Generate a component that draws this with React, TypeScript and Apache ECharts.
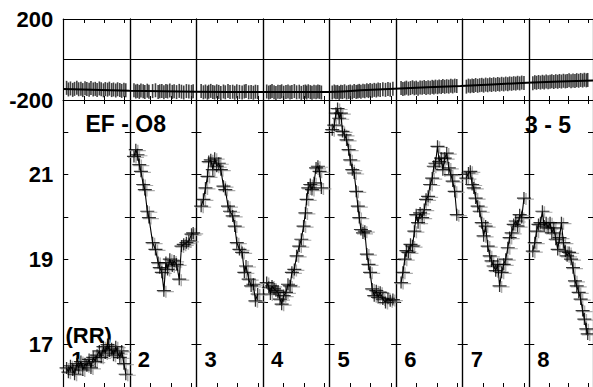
import React, { useEffect, useRef } from "react";
import * as echarts from "echarts";

// ---- data -------------------------------------------------------------
const segmentNames = ["1", "2", "3", "4", "5", "6", "7", "8"];
const segmentSpan = 3.25; // local time units per segment
const magTicks = [17, 19, 21];
const diffTicks = [200, -200];

const seg1X = [0.16, 0.25, 0.35, 0.46, 0.55, 0.66, 0.75, 0.86, 0.95, 1.06, 1.15, 1.26, 1.35, 1.46, 1.56, 1.65, 1.76, 1.85, 1.96, 2.05, 2.16, 2.25, 2.36, 2.45, 2.56, 2.65, 2.76, 2.85, 2.96, 3.05];
const seg1Mag = [16.45, 16.35, 16.5, 16.4, 16.3, 16.55, 16.45, 16.6, 16.4, 16.55, 16.5, 16.65, 16.45, 16.7, 16.6, 16.75, 16.85, 16.7, 16.95, 16.8, 17.0, 16.85, 16.9, 16.75, 16.95, 16.8, 16.7, 16.85, 16.55, 16.3];
const seg2X = [0.2, 0.29, 0.37, 0.46, 0.54, 0.65, 0.73, 0.85, 0.93, 1.11, 1.25, 1.38, 1.46, 1.56, 1.66, 1.76, 1.84, 1.95, 2.07, 2.16, 2.28, 2.41, 2.52, 2.63, 2.76, 2.88, 3.01, 3.09];
const seg2Mag = [21.43, 21.59, 21.47, 21.24, 21.08, 20.77, 20.65, 20.14, 19.99, 19.4, 19.24, 18.93, 18.81, 18.7, 18.27, 18.93, 18.77, 19.01, 18.85, 18.97, 18.89, 18.54, 19.32, 19.36, 19.4, 19.44, 19.6, 19.63];
const seg3X = [0.23, 0.34, 0.44, 0.54, 0.6, 0.7, 0.8, 0.89, 0.99, 1.09, 1.19, 1.32, 1.41, 1.54, 1.64, 1.77, 1.87, 1.97, 2.1, 2.23, 2.34, 2.42, 2.55, 2.67, 2.78, 2.88, 2.99];
const seg3Mag = [20.26, 20.42, 20.69, 20.96, 21.31, 21.35, 21.12, 21.39, 21.2, 21.27, 21.12, 20.73, 20.65, 20.26, 20.14, 20.03, 19.79, 19.4, 19.24, 19.17, 18.7, 18.85, 18.54, 18.38, 18.42, 18.03, 18.19];
const seg4X = [0.18, 0.28, 0.36, 0.44, 0.54, 0.63, 0.73, 0.83, 0.91, 1.01, 1.12, 1.22, 1.32, 1.41, 1.53, 1.64, 1.77, 1.87, 1.98, 2.07, 2.13, 2.21, 2.31, 2.39, 2.49, 2.59, 2.68, 2.76, 2.85];
const seg4Mag = [18.46, 18.35, 18.19, 18.38, 18.31, 18.27, 18.23, 18.07, 17.95, 18.15, 18.23, 18.42, 18.38, 18.7, 18.77, 19.09, 19.32, 19.48, 19.79, 20.1, 20.42, 20.69, 20.77, 20.65, 20.81, 21.16, 21.2, 21.08, 20.69];
const seg5X = [0.13, 0.23, 0.31, 0.39, 0.47, 0.55, 0.63, 0.73, 0.83, 0.93, 1.01, 1.11, 1.2, 1.3, 1.38, 1.45, 1.53, 1.63, 1.72, 1.82, 1.9, 1.98, 2.08, 2.18, 2.28, 2.37, 2.47, 2.6, 2.73, 2.85, 2.96, 3.09];
const seg5Mag = [22.06, 22.17, 22.45, 22.56, 22.33, 22.45, 22.02, 21.94, 21.82, 21.59, 21.35, 21.12, 21.04, 20.61, 20.26, 19.99, 19.71, 19.63, 19.67, 19.13, 18.89, 18.7, 18.31, 18.15, 18.27, 18.11, 18.23, 18.07, 17.99, 18.09, 18.03, 18.06];
const seg6X = [0.24, 0.33, 0.42, 0.5, 0.6, 0.7, 0.8, 0.89, 0.98, 1.07, 1.17, 1.27, 1.37, 1.46, 1.56, 1.66, 1.76, 1.84, 1.92, 2.02, 2.1, 2.2, 2.28, 2.37, 2.47, 2.57, 2.67, 2.76, 2.86, 2.96];
const seg6Mag = [18.46, 18.7, 19.01, 19.21, 19.17, 19.36, 19.32, 19.67, 20.06, 19.87, 20.1, 19.99, 20.18, 20.42, 20.49, 20.77, 20.92, 21.2, 21.27, 21.67, 21.31, 21.39, 21.12, 21.39, 21.51, 21.16, 21.0, 20.85, 20.61, 20.06];
const seg7X = [0.18, 0.28, 0.37, 0.46, 0.54, 0.63, 0.73, 0.83, 0.93, 1.02, 1.12, 1.22, 1.32, 1.41, 1.51, 1.61, 1.71, 1.8, 1.9, 2.0, 2.1, 2.2, 2.29, 2.39, 2.49, 2.59, 2.68, 2.78, 2.88, 2.99];
const seg7Mag = [20.92, 21.04, 21.08, 20.77, 20.69, 20.45, 20.26, 20.14, 19.87, 19.56, 19.79, 19.32, 19.09, 18.97, 18.85, 18.74, 18.89, 18.38, 18.7, 18.89, 19.01, 19.28, 19.52, 19.63, 19.83, 19.91, 19.79, 20.06, 19.99, 20.45];
const seg8X = [0.18, 0.28, 0.37, 0.47, 0.57, 0.67, 0.76, 0.86, 0.96, 1.06, 1.15, 1.25, 1.35, 1.45, 1.54, 1.64, 1.74, 1.84, 1.93, 2.03, 2.13, 2.23, 2.33, 2.42, 2.52, 2.62, 2.72, 2.81, 2.91, 2.98];
const seg8Mag = [19.2, 19.4, 19.67, 19.83, 19.87, 20.14, 19.79, 19.87, 19.75, 19.87, 19.63, 19.75, 19.48, 19.24, 19.52, 19.87, 19.4, 19.2, 19.09, 19.17, 19.01, 18.81, 18.5, 18.38, 18.23, 18.07, 17.8, 17.6, 17.37, 17.25];

// comparison differences (upper panel)
const seg1Diff = [-140, -148, -143, -150, -145, -139, -147, -144, -151, -142, -146, -149, -141, -148, -145, -150, -143, -147, -152, -146, -149, -144, -151, -148, -153, -147, -150, -155, -149, -152];
const seg2Diff = [-152, -158, -155, -160, -153, -157, -161, -154, -159, -156, -152, -160, -157, -155, -162, -156, -158, -153, -160, -157, -161, -155, -159, -163, -156, -158, -160, -157];
const seg3Diff = [-156, -162, -158, -164, -159, -155, -161, -163, -157, -160, -165, -158, -162, -156, -161, -159, -164, -157, -160, -163, -158, -155, -162, -160, -164, -159, -161];
const seg4Diff = [-158, -163, -160, -156, -162, -165, -159, -161, -157, -164, -160, -158, -163, -161, -156, -162, -159, -165, -160, -158, -163, -157, -161, -164, -159, -162, -158, -160, -163];
const seg5Diff = [-163, -158, -162, -160, -165, -159, -161, -157, -163, -160, -158, -162, -156, -160, -158, -155, -159, -154, -157, -152, -156, -151, -154, -150, -153, -148, -151, -147, -150, -146, -149, -145];
const seg6Diff = [-141, -146, -143, -139, -144, -141, -137, -142, -139, -144, -138, -140, -136, -141, -137, -139, -135, -138, -134, -137, -133, -136, -131, -135, -132, -134, -130, -133, -129, -131];
const seg7Diff = [-134, -129, -132, -128, -131, -126, -130, -127, -125, -129, -124, -127, -123, -126, -122, -125, -121, -124, -120, -123, -119, -122, -118, -120, -117, -119, -115, -118, -114, -116];
const seg8Diff = [-117, -112, -115, -111, -114, -110, -113, -109, -112, -110, -108, -111, -107, -110, -106, -109, -105, -108, -106, -103, -107, -104, -106, -102, -105, -101, -104, -100, -103, -101];

const trendX = [0, 3.25, 6.5, 9.75, 13, 14.6, 16.25, 19.5, 22.75, 26];
const trendDiff = [-146, -154, -159, -161, -161, -152, -144, -131, -115, -104];

const segX = [seg1X, seg2X, seg3X, seg4X, seg5X, seg6X, seg7X, seg8X];
const segMag = [seg1Mag, seg2Mag, seg3Mag, seg4Mag, seg5Mag, seg6Mag, seg7Mag, seg8Mag];
const segDiff = [seg1Diff, seg2Diff, seg3Diff, seg4Diff, seg5Diff, seg6Diff, seg7Diff, seg8Diff];

// ---- layout -----------------------------------------------------------
const PLOT_LEFT = 63.3;
const SEG_W = 66.57;
const TOP_Y = 19;
const TOP_H = 81;
const BOT_Y = 100;
const BOT_H = 288.3;
const FONT = '"Liberation Sans", Arial, sans-serif';
const PLUS = "path://M0,5.4H13V6.6H0Z M5.9,0H7.1V12H5.9Z";

function pairs(xs: number[], ys: number[]) {
  const n = Math.min(xs.length, ys.length);
  const out: number[][] = [];
  for (let i = 0; i < n; i++) out.push([xs[i], ys[i]]);
  return out;
}

function buildOption() {
  const grid: any[] = [];
  const xAxis: any[] = [];
  const yAxis: any[] = [];
  const series: any[] = [];
  const line = { show: true, onZero: false, lineStyle: { color: "#000", width: 1.2 } };
  const labelStyle = { fontFamily: FONT, fontWeight: "bold", fontSize: 22, color: "#000", margin: 10 };

  const addGrid = (k: number, top: number, height: number, isTop: boolean) => {
    const g = grid.length;
    grid.push({ left: PLOT_LEFT + SEG_W * k, top, width: SEG_W, height });
    for (const pos of ["bottom", "top"]) {
      xAxis.push({
        gridIndex: g, type: "value", min: 0, max: segmentSpan, interval: 1, position: pos,
        axisLine: line, axisTick: { show: true, inside: true, length: 4, lineStyle: { color: "#000" } },
        axisLabel: { show: false }, splitLine: { show: false },
      });
    }
    for (const pos of ["left", "right"]) {
      const first = k === 0 && pos === "left";
      yAxis.push(
        isTop
          ? {
              gridIndex: g, type: "value", min: -200, max: 200, interval: 200, position: pos,
              axisLine: line, axisTick: { show: false },
              axisLabel: first ? { ...labelStyle, formatter: (v: number) => (diffTicks.includes(v) ? String(v) : "") } : { show: false },
              splitLine: { show: pos === "left", lineStyle: { color: "#000", width: 1.2 } },
            }
          : {
              gridIndex: g, type: "value", min: 16, max: 22.76, interval: 1, position: pos,
              axisLine: line, axisTick: { show: true, inside: true, length: 5, lineStyle: { color: "#000" } },
              axisLabel: first ? { ...labelStyle, formatter: (v: number) => (magTicks.includes(v) ? String(v) : "") } : { show: false },
              splitLine: { show: false },
            }
      );
    }
    return g;
  };

  for (let k = 0; k < segmentNames.length; k++) {
    const g = addGrid(k, BOT_Y, BOT_H, false);
    const data = pairs(segX[k], segMag[k]);
    series.push({
      type: "scatter", xAxisIndex: 2 * g, yAxisIndex: 2 * g, data, symbol: PLUS,
      symbolSize: [16, 12], symbolOffset: [2, 1], itemStyle: { color: "#999" }, silent: true, z: 1,
    });
    series.push({
      type: "line", xAxisIndex: 2 * g, yAxisIndex: 2 * g, data, symbol: "none",
      lineStyle: { color: "#000", width: 1.1 }, silent: true, z: 2,
    });
    series.push({
      type: "scatter", xAxisIndex: 2 * g, yAxisIndex: 2 * g, data, symbol: PLUS,
      symbolSize: [14, 12], itemStyle: { color: "#000" }, silent: true, z: 3,
    });
  }
  for (let k = 0; k < segmentNames.length; k++) {
    const g = addGrid(k, TOP_Y, TOP_H, true);
    series.push({
      type: "scatter", xAxisIndex: 2 * g, yAxisIndex: 2 * g, data: pairs(segX[k], segDiff[k]),
      symbol: "rect", symbolSize: [1.6, 14], itemStyle: { color: "#111" }, silent: true, z: 2,
    });
  }
  // trend line across all segments of the upper panel
  const tg = grid.length;
  grid.push({ left: PLOT_LEFT, top: TOP_Y, width: SEG_W * segmentNames.length, height: TOP_H });
  xAxis.push({ gridIndex: tg, type: "value", min: 0, max: segmentSpan * segmentNames.length, show: false });
  yAxis.push({ gridIndex: tg, type: "value", min: -200, max: 200, show: false });
  series.push({
    type: "line", xAxisIndex: xAxis.length - 1, yAxisIndex: yAxis.length - 1,
    data: pairs(trendX, trendDiff), smooth: true, symbol: "none",
    lineStyle: { color: "#000", width: 2 }, silent: true, z: 5,
  });

  const textStyle = (text: string, size = 23) => ({
    text, font: `bold ${size}px ${FONT}`, fill: "#000", textVerticalAlign: "middle", verticalAlign: "middle",
  });
  const graphic: any[] = [
    { type: "text", x: 85.5, y: 124, style: textStyle("EF - O8"), z: 0 },
    { type: "text", x: 525, y: 124.5, style: textStyle("3 - 5"), z: 0 },
    { type: "text", x: 65.5, y: 335, style: textStyle("(RR)", 22), z: 0 },
  ];
  segmentNames.forEach((name, k) => {
    graphic.push({ type: "text", x: PLOT_LEFT + SEG_W * k + 8, y: 359, style: textStyle(name, 22), z: 0 });
  });

  return {
    animation: false,
    backgroundColor: "#fff",
    grid, xAxis, yAxis, series, graphic,
  };
}

export default function App() {
  const ref = useRef<HTMLDivElement>(null);
  useEffect(() => {
    if (!ref.current) return;
    const chart = echarts.init(ref.current, undefined, { renderer: "svg" });
    chart.setOption(buildOption() as any);
    return () => chart.dispose();
  }, []);
  return (
    <div
      ref={ref}
      style={{ position: "absolute", left: 0, top: 0, width: 593, height: 387, overflow: "hidden", background: "#fff" }}
    />
  );
}
